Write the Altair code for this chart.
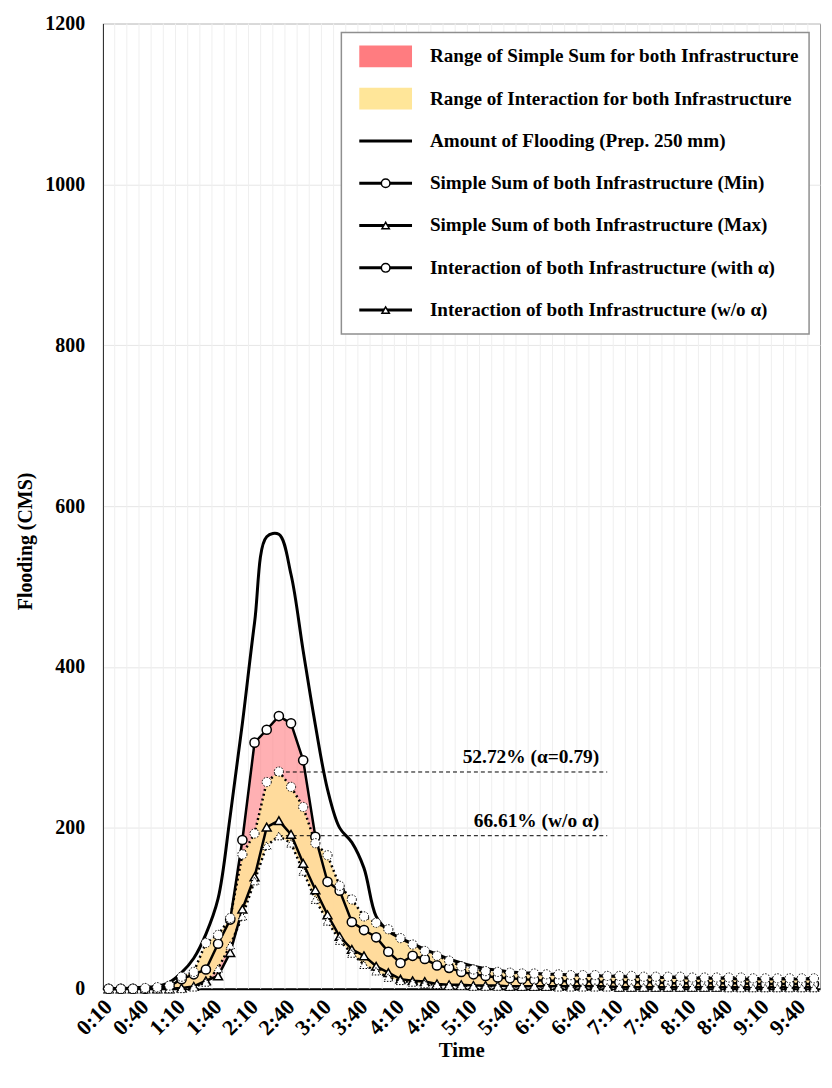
import altair as alt
import pandas as pd

# ---------------- data ----------------
times = [f"{m // 60}:{m % 60:02d}" for m in range(10, 600, 10)]  # 0:10 ... 9:50
tick_labels = times[::3]

flooding = [0, 0, 1, 2, 3, 8, 20, 38, 68, 112,
            215, 330, 455, 562, 565, 515, 420, 328, 248, 200,
            182, 150, 90, 72, 63, 56, 49, 43, 37, 32,
            28, 25, 23, 21, 20, 19, 18, 18, 17, 17,
            16, 16, 15, 15, 15, 14, 14, 14, 13, 13,
            13, 13, 12, 12, 12, 12, 12, 12, 12]

simple_min = [0, 0, 0, 0, 1, 3, 12, 18, 24, 56,
              86, 185, 306, 322, 339, 330, 284, 189, 133, 122,
              83, 73, 64, 46, 32, 41, 37, 29, 26, 21,
              18, 16, 14, 13, 12, 11, 10, 10, 9, 9,
              9, 8, 8, 8, 8, 8, 7, 7, 7, 7,
              7, 7, 7, 6, 6, 6, 6, 6, 6]

simple_max = [0, 0, 0, 0, 0, 0, 1, 3, 10, 16,
              45, 99, 139, 201, 209, 192, 156, 123, 92, 65,
              49, 41, 28, 20, 12, 10, 9, 6, 5, 5,
              4, 4, 4, 3, 3, 3, 3, 3, 3, 3,
              3, 3, 2, 2, 2, 2, 2, 2, 2, 2,
              2, 2, 2, 2, 2, 2, 2, 2, 2]

inter_alpha = [0, 0, 0, 1, 2, 4, 15, 21, 57, 67,
               88, 167, 193, 257, 270, 251, 226, 181, 166, 128,
               111, 90, 82, 74, 63, 55, 47, 41, 35, 28,
               24, 22, 21, 20, 19, 19, 18, 18, 17, 17,
               17, 16, 16, 16, 15, 15, 15, 15, 14, 14,
               14, 14, 14, 13, 13, 13, 13, 13, 13]

inter_no_alpha = [0, 0, 0, 0, 0, 0, 0, 2, 8, 25,
                  54, 90, 134, 178, 190, 181, 146, 111, 84, 60,
                  44, 30, 22, 14, 10, 8, 6, 5, 4, 4,
                  3, 3, 3, 3, 3, 3, 3, 2, 2, 2,
                  2, 2, 2, 2, 2, 2, 2, 2, 2, 2,
                  2, 1, 1, 1, 1, 1, 1, 1, 1]

legend_labels = [
    "Range of Simple Sum for both Infrastructure",
    "Range of Interaction for both Infrastructure",
    "Amount of Flooding (Prep. 250 mm)",
    "Simple Sum of both Infrastructure (Min)",
    "Simple Sum of both Infrastructure (Max)",
    "Interaction of both Infrastructure (with \u03b1)",
    "Interaction of both Infrastructure (w/o \u03b1)",
]

annot_labels = ["52.72% (\u03b1=0.79)", "66.61% (w/o \u03b1)"]
annot_values = [269.5, 190.3]
annot_start = ["2:30", "2:30"]
annot_end = ["7:00", "7:00"]

y_ticks = [0, 200, 400, 600, 800, 1000, 1200]

df = pd.DataFrame({
    "time": times,
    "flood": flooding,
    "smin": simple_min,
    "smax": simple_max,
    "ia": inter_alpha,
    "ina": inter_no_alpha,
})
annot_df = pd.DataFrame({"label": annot_labels, "value": annot_values,
                         "start": annot_start, "end": annot_end})
leg_df = pd.DataFrame({"label": legend_labels, "row": list(range(len(legend_labels)))})

# ---------------- styling ----------------
FONT = "Liberation Serif"
W, H = 721, 970

xscale = alt.Scale(type="band", domain=times, paddingInner=0, paddingOuter=0)
yscale = alt.Scale(domain=[0, 1200], nice=False, zero=True)

xaxis = alt.Axis(values=tick_labels, labelAngle=-45, labelAlign="right",
                 labelBaseline="middle", labelFontSize=22, labelPadding=14,
                 ticks=False, tickSize=0, grid=False, domainColor="black",
                 domainWidth=2, titleFontSize=21, titlePadding=1)
yaxis = alt.Axis(values=y_ticks, format="d", labelFontSize=20, labelPadding=18, ticks=False,
                 tickSize=0, grid=True, gridColor="#e6e6e6", gridWidth=1,
                 domainColor="black", domainWidth=1.5, titleFontSize=20,
                 titlePadding=9, titleY=520)


def xenc(field, bp=0.5):
    return alt.X(f"{field}:O", scale=xscale, bandPosition=bp, axis=xaxis, title="Time")


def yenc(field):
    return alt.Y(f"{field}:Q", scale=yscale, axis=yaxis, title="Flooding (CMS)")


base = alt.Chart(df)

vgrid = base.mark_rule(color="#efefef", strokeWidth=1).encode(x=xenc("time", 0))

pink = base.mark_area(color="#FF7C80", opacity=0.6).encode(
    x=xenc("time"), y=yenc("smin"), y2="smax")
yellow = base.mark_area(color="#FFDE9A", opacity=0.92).encode(
    x=xenc("time"), y=yenc("ia"), y2="ina")

flood_line = base.mark_line(color="black", strokeWidth=3, interpolate="catmull-rom").encode(
    x=xenc("time"), y=yenc("flood"))

smin_line = base.mark_line(color="black", strokeWidth=2.5).encode(x=xenc("time"), y=yenc("smin"))
smax_line = base.mark_line(color="black", strokeWidth=2.5).encode(x=xenc("time"), y=yenc("smax"))
ia_line = base.mark_line(color="black", strokeWidth=2.5, strokeDash=[2, 3]).encode(
    x=xenc("time"), y=yenc("ia"))
ina_line = base.mark_line(color="black", strokeWidth=2.5, strokeDash=[2, 3]).encode(
    x=xenc("time"), y=yenc("ina"))

annot_rule = alt.Chart(annot_df).mark_rule(color="black", strokeWidth=1, strokeDash=[4, 3]).encode(
    x=xenc("start"), x2="end", y=yenc("value"))
annot_text = alt.Chart(annot_df).mark_text(
    align="right", baseline="alphabetic", dx=-8, dy=-9, font=FONT,
    fontWeight="bold", fontSize=19.5, color="black").encode(
    x=xenc("end"), y=yenc("value"), text="label:N")

CIRC, TRI = 85, 80
smax_pts = base.mark_point(shape="triangle-up", filled=True, fill="white", stroke="black",
                           strokeWidth=1.5, size=TRI, opacity=1).encode(
    x=xenc("time"), y=yenc("smax"))
smin_pts = base.mark_point(shape="circle", filled=True, fill="white", stroke="black",
                           strokeWidth=1.5, size=CIRC, opacity=1).encode(
    x=xenc("time"), y=yenc("smin"))
ina_pts = base.mark_point(shape="triangle-up", filled=True, fill="white", stroke="black",
                          strokeWidth=1, strokeDash=[1.5, 1.5], size=TRI, opacity=1).encode(
    x=xenc("time"), y=yenc("ina"))
ia_pts = base.mark_point(shape="circle", filled=True, fill="white", stroke="black",
                         strokeWidth=1, strokeDash=[1.5, 1.5], size=CIRC, opacity=1).encode(
    x=xenc("time"), y=yenc("ia"))

main = alt.layer(vgrid, pink, yellow, flood_line, smin_line, smax_line, ia_line, ina_line,
                 annot_rule, annot_text, smax_pts, smin_pts, ina_pts, ia_pts)

# ---------------- legend (drawn inside the plot) ----------------
leg_y = alt.Y("row:Q", scale=alt.Scale(domain=[0, 6], range=[33, 288]), axis=None)
leg = alt.Chart(leg_df)

box = alt.Chart(pd.DataFrame({"k": [0]})).mark_rect(
    fill="white", stroke="#8f8f8f", strokeWidth=1.5).encode(
    x=alt.value(240), x2=alt.value(710), y=alt.value(9), y2=alt.value(312))
leg_text = leg.mark_text(align="left", baseline="middle", font=FONT, fontWeight="bold",
                         fontSize=19.2, color="black").encode(
    x=alt.value(329), y=leg_y, text="label:N")
sw_pink = leg.transform_filter("datum.row == 0").mark_rule(
    color="#FF7C80", strokeWidth=22).encode(x=alt.value(258), x2=alt.value(311), y=leg_y)
sw_yellow = leg.transform_filter("datum.row == 1").mark_rule(
    color="#FFE699", strokeWidth=22).encode(x=alt.value(258), x2=alt.value(311), y=leg_y)
sw_lines = leg.transform_filter("datum.row >= 2").mark_rule(
    color="black", strokeWidth=3).encode(x=alt.value(258), x2=alt.value(311), y=leg_y)
sw_circ = leg.transform_filter("datum.row == 3 || datum.row == 5").mark_point(
    shape="circle", filled=True, fill="white", stroke="black", strokeWidth=1.5,
    size=75, opacity=1).encode(x=alt.value(284.5), y=leg_y)
sw_tri = leg.transform_filter("datum.row == 4 || datum.row == 6").mark_point(
    shape="triangle-up", filled=True, fill="white", stroke="black", strokeWidth=1.5,
    size=55, opacity=1).encode(x=alt.value(284.5), y=leg_y)

legend = alt.layer(box, sw_pink, sw_yellow, sw_lines, sw_circ, sw_tri, leg_text)

chart = alt.layer(main, legend).resolve_scale(y="independent").properties(
    width=W, height=H,
    padding={"left": 8, "top": 3, "right": 2, "bottom": 0},
).configure_view(
    stroke="#9a9a9a", strokeWidth=1
).configure_axis(
    labelFont=FONT, titleFont=FONT, labelFontWeight="bold", titleFontWeight="bold",
    labelColor="black", titleColor="black"
)

chart.save("out.html", embed_options={"renderer": "svg", "actions": False})
